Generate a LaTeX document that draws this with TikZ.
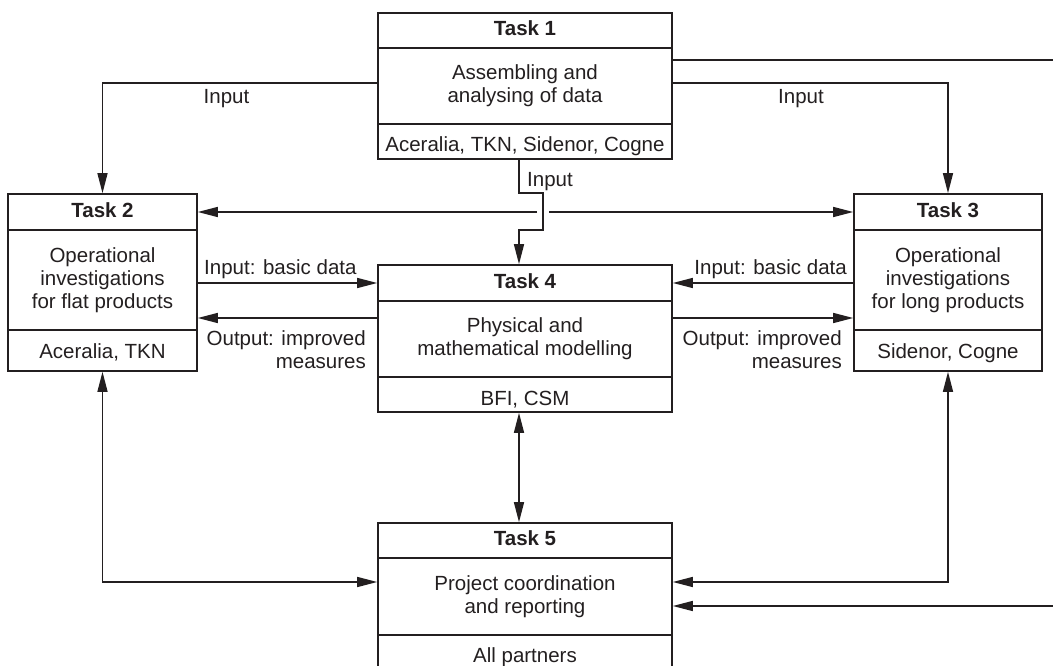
\documentclass[tikz,border=0pt]{standalone}
\usepackage{fontspec}
\setmainfont{Liberation Sans}
\usetikzlibrary{arrows.meta}
\definecolor{ink}{HTML}{231F20}
\begin{document}
\begin{tikzpicture}[x=1pt,y=-1pt,
  part/.style={draw=ink, line width=1.6pt, inner sep=0pt, align=center, text=ink,
    font=\fontsize{20.5}{23}\selectfont},
  head/.style={part, font=\fontsize{20.5}{23}\selectfont\bfseries, text height=15pt, text depth=4.3pt},
  foot/.style={part, text height=25pt, text depth=4pt},
  foottall/.style={part, text height=19pt, text depth=4pt},
  lbl/.style={inner sep=0pt, text=ink, font=\fontsize{20.5}{23}\selectfont},
  conn/.style={draw=ink, line width=1.4pt},
  arr/.style={conn, -{Triangle[length=20pt,width=10pt]}},
  darr/.style={conn, {Triangle[length=20pt,width=10pt]}-{Triangle[length=20pt,width=10pt]}}
]
\useasboundingbox (0,0) rectangle (1053,666);
\clip (0,0) rectangle (1053,666);

% Task 1
\node[head, minimum width=294pt, minimum height=35pt] (t1h) at (525,30.5) {Task 1};
\node[part, minimum width=294pt, minimum height=76pt] (t1b) at (525,86) {Assembling and\\analysing of data};
\node[foot, minimum width=294pt, minimum height=35pt] (t1f) at (525,141.5) {Aceralia, TKN, Sidenor, Cogne};

% Task 2
\node[head, minimum width=189pt, minimum height=36pt] (t2h) at (102.5,212) {Task 2};
\node[part, minimum width=189pt, minimum height=100pt] (t2b) at (102.5,280) {Operational\\investigations\\for flat products};
\node[foottall, minimum width=189pt, minimum height=41pt] (t2f) at (102.5,350.5) {Aceralia, TKN};

% Task 3
\node[head, minimum width=188pt, minimum height=36pt] (t3h) at (948,212) {Task 3};
\node[part, minimum width=188pt, minimum height=100pt] (t3b) at (948,280) {Operational\\investigations\\for long products};
\node[foottall, minimum width=188pt, minimum height=41pt] (t3f) at (948,350.5) {Sidenor, Cogne};

% Task 4
\node[head, minimum width=294pt, minimum height=36pt] (t4h) at (525,283) {Task 4};
\node[part, minimum width=294pt, minimum height=76pt] (t4b) at (525,339) {Physical and\\mathematical modelling};
\node[foot, minimum width=294pt, minimum height=35pt] (t4f) at (525,394.5) {BFI, CSM};

% Task 5
\node[head, minimum width=294pt, minimum height=35pt] (t5h) at (525,540.5) {Task 5};
\node[part, minimum width=294pt, minimum height=77pt] (t5b) at (525,596.5) {Project coordination\\and reporting};
\node[part, text height=15pt, text depth=4.3pt, minimum width=294pt, minimum height=45pt] (t5f) at (525,657.5) {All partners};

% coordinates
\coordinate (j1) at (543,193);
\coordinate (j2) at (543,230);
\coordinate (gl) at (537,212);
\coordinate (gr) at (549,212);
\coordinate (rt) at (1065,60);
\coordinate (rb) at (1065,606);

% connectors
\draw[arr] ([yshift=3pt]t1b.west) -| (t2h.north);
\draw[arr] ([yshift=3pt]t1b.east) -| (t3h.north);
\draw[arr] ([yshift=26pt]t1b.east) -- (rt) -- (rb) -- (t5b.east |- rb);
\draw[arr] ([xshift=-6pt]t1f.south) |- (j1) -- (j2) -| ([xshift=-6pt]t4h.north);
\draw[arr] (gl) -- (t2h.east);
\draw[arr] (gr) -- (t3h.west);
\draw[arr] (t2b.east |- t4h.west) -- (t4h.west);
\draw[arr] ([yshift=21pt]t4b.west) coordinate (o2) -- (t2b.east |- o2);
\draw[arr] (t3b.west |- t4h.east) -- (t4h.east);
\draw[arr] ([yshift=21pt]t4b.east) coordinate (o3) -- (t3b.west |- o3);
\draw[darr] ([xshift=-6pt]t4f.south) -- ([xshift=-6pt]t5h.north);
\draw[darr] (t2f.south) |- ([yshift=14.5pt]t5b.west);
\draw[darr] (t3f.south) |- ([yshift=14.5pt]t5b.east);

% labels
\node[lbl, anchor=base] (l1) at (226.5,104) {Input};
\node[lbl, anchor=base] (l2) at (801,104) {Input};
\node[lbl, anchor=base west] (l3) at (527,186) {Input};
\node[lbl, anchor=base west] (l4) at (204,274) {Input: basic data};
\node[lbl, anchor=base east] (l5) at (847,274) {Input: basic data};
\node[lbl, anchor=north east, align=right] (l6) at (366,330) {Output: improved\\measures};
\node[lbl, anchor=north east, align=right] (l7) at (842,330) {Output: improved\\measures};
\end{tikzpicture}
\end{document}
